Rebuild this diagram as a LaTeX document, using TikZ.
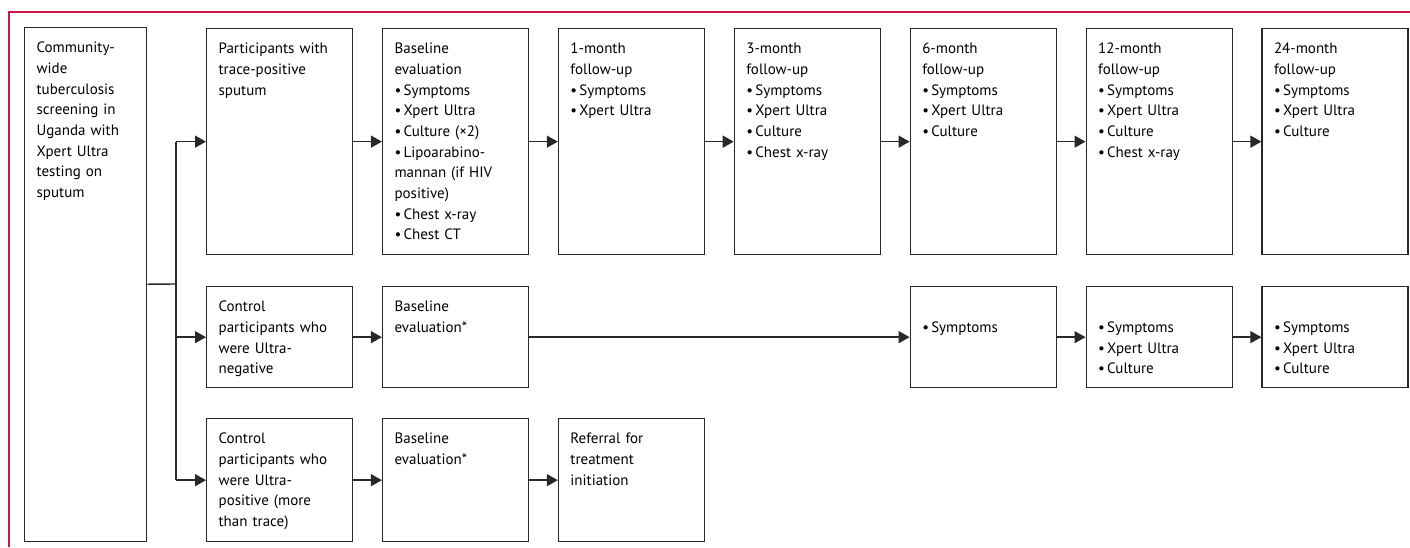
\documentclass[tikz,border=0pt]{standalone}
\usepackage{fontspec}
\setmainfont{PT Sans}
\usetikzlibrary{positioning,arrows.meta}

\definecolor{lancetred}{RGB}{200,24,72}
\definecolor{boxline}{RGB}{40,40,40}

\newcommand{\itm}[1]{\par\hangindent=9pt\hangafter=1\makebox[9pt][l]{\textbullet}#1}

\begin{document}
\begin{tikzpicture}
        [x=1pt, y=-1pt, font=\fontsize{15}{20.7}\selectfont,
        stage/.style={draw=boxline, line width=1.3pt, anchor=north west,
        text width=122pt, inner xsep=12pt, inner ysep=0pt, align=left,
        text height=25pt, text depth=#1},
        link/.style={draw=boxline, line width=1.4pt},
        flow/.style={link, -{Triangle[length=11pt,width=12pt]}},
        node distance=28.6pt]
        \useasboundingbox (0,0) rectangle (1410,547);
        \draw[lancetred, line width=1.2pt] (9,547) -- (9,12) -- (1410,12);

        % screening
        \node[stage=489pt, text width=98pt] (screen) at (24,27)
            {Community-\\wide\\tuberculosis\\screening in\\Uganda with\\Xpert Ultra\\testing on\\sputum};

        % trace-positive participants
        \node[stage=201pt] (trace) at (206,28) {Participants with\\trace-positive\\sputum};
        \node[stage=201pt, right=of trace] (base) {Baseline\\evaluation
            \itm{Symptoms}\itm{Xpert Ultra}\itm{Culture (×2)}
            \itm{Lipoarabino-\\mannan (if HIV\\positive)}\itm{Chest x-ray}\itm{Chest CT}};
        \node[stage=201pt, right=of base] (m1) {1-month\\follow-up
            \itm{Symptoms}\itm{Xpert Ultra}};
        \node[stage=201pt, right=of m1] (m3) {3-month\\follow-up
            \itm{Symptoms}\itm{Xpert Ultra}\itm{Culture}\itm{Chest x-ray}};
        \node[stage=201pt, right=of m3] (m6) {6-month\\follow-up
            \itm{Symptoms}\itm{Xpert Ultra}\itm{Culture}};
        \node[stage=201pt, right=of m6] (m12) {12-month\\follow-up
            \itm{Symptoms}\itm{Xpert Ultra}\itm{Culture}\itm{Chest x-ray}};
        \node[stage=201pt, right=of m12] (m24) {24-month\\follow-up
            \itm{Symptoms}\itm{Xpert Ultra}\itm{Culture}};

        % Ultra-negative controls
        \node[stage=76pt] (neg) at (206,286) {Control\\participants who\\were Ultra-\\negative};
        \node[stage=76pt, right=of neg] (negbase) {Baseline\\evaluation*};
        \node[stage=76pt] (neg6) at (neg.north west -| m6.west) {\itm{Symptoms}};
        \node[stage=76pt, right=of neg6] (neg12) {\itm{Symptoms}\itm{Xpert Ultra}\itm{Culture}};
        \node[stage=76pt, right=of neg12] (neg24) {\itm{Symptoms}\itm{Xpert Ultra}\itm{Culture}};

        % Ultra-positive controls
        \node[stage=98pt] (pos) at (206,418) {Control\\participants who\\were Ultra-\\positive (more\\than trace)};
        \node[stage=98pt, right=of pos] (posbase) {Baseline\\evaluation*};
        \node[stage=98pt, right=of posbase] (referral) {Referral for\\treatment\\initiation};

        % connectors
        \coordinate (split) at (176,284);
        \draw[link] (screen) -- (split);
        \draw[link] (split |- trace) -- (split |- pos);
        \foreach \t in {trace,neg,pos}
            \draw[flow] (split |- \t) -- (\t);
        \foreach \a/\b in {trace/base, base/m1, m1/m3, m3/m6, m6/m12, m12/m24,
                neg/negbase, negbase/neg6, neg6/neg12, neg12/neg24,
                pos/posbase, posbase/referral}
            \draw[flow] (\a) -- (\b);
\end{tikzpicture}
\end{document}
